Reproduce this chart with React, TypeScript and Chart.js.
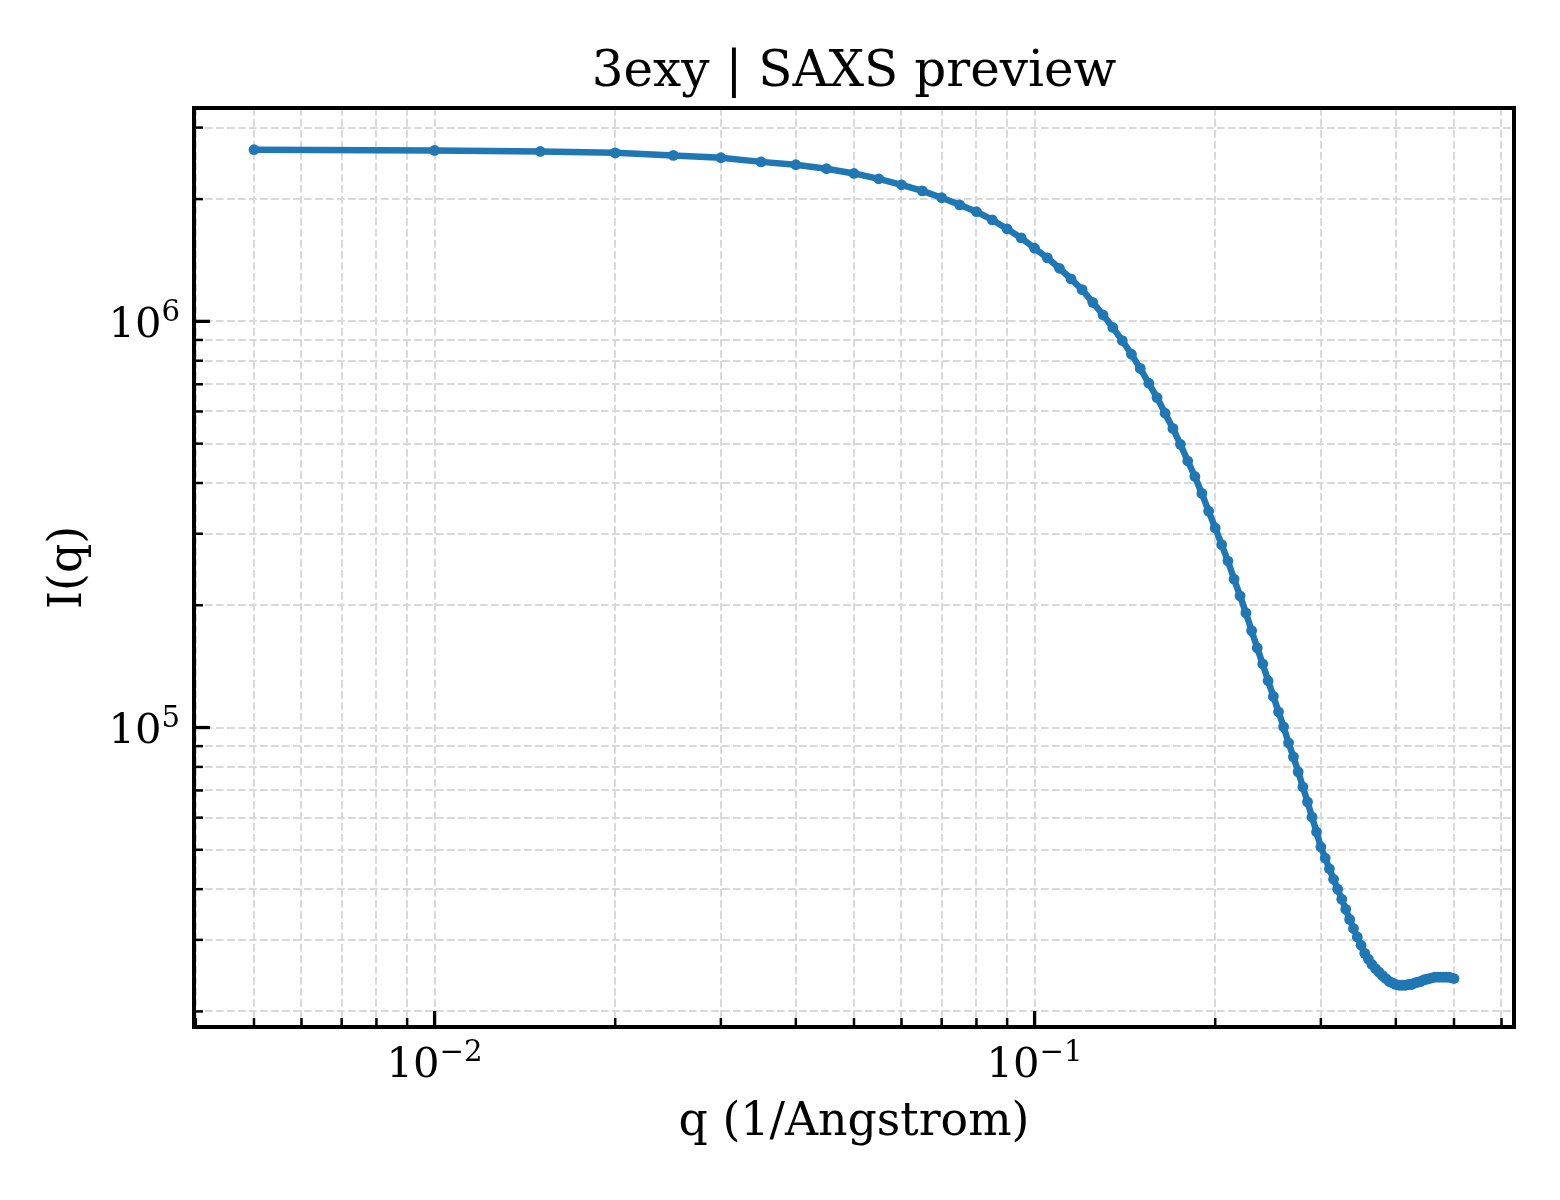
import { useEffect, useRef } from 'react';
import Chart from 'chart.js/auto';

// scattering vector q (1/Angstrom)
const qValues = [
  0.005, 0.01, 0.015, 0.02, 0.025, 0.03, 0.035, 0.04, 0.045, 0.05,
  0.055, 0.06, 0.065, 0.07, 0.075, 0.08, 0.085, 0.09, 0.095, 0.1,
  0.105, 0.11, 0.115, 0.12, 0.125, 0.13, 0.135, 0.14, 0.145, 0.15,
  0.155, 0.16, 0.165, 0.17, 0.175, 0.18, 0.185, 0.19, 0.195, 0.2,
  0.205, 0.21, 0.215, 0.22, 0.225, 0.23, 0.235, 0.24, 0.245, 0.25,
  0.255, 0.26, 0.265, 0.27, 0.275, 0.28, 0.285, 0.29, 0.295, 0.3,
  0.305, 0.31, 0.315, 0.32, 0.325, 0.33, 0.335, 0.34, 0.345, 0.35,
  0.355, 0.36, 0.365, 0.37, 0.375, 0.38, 0.385, 0.39, 0.395, 0.4,
  0.405, 0.41, 0.415, 0.42, 0.425, 0.43, 0.435, 0.44, 0.445, 0.45,
  0.455, 0.46, 0.465, 0.47, 0.475, 0.48, 0.485, 0.49, 0.495, 0.5,
];

// I(q)
const intensity = [
  2.646e6, 2.635e6, 2.62e6, 2.6e6, 2.562e6, 2.528e6, 2.47e6, 2.43e6, 2.376e6, 2.313e6,
  2.244e6, 2.169e6, 2.096e6, 2.015e6, 1.936e6, 1.862e6, 1.778e6, 1.689e6, 1.605e6, 1.514e6,
  1.433e6, 1.351e6, 1.272e6, 1.197e6, 1.114e6, 1.038e6, 9.66e5, 8.97e5, 8.3e5, 7.66e5,
  7.04e5, 6.49e5, 5.94e5, 5.45e5, 4.98e5, 4.53e5, 4.15e5, 3.77e5, 3.41e5, 3.1e5,
  2.82e5, 2.57e5, 2.32e5, 2.11e5, 1.915e5, 1.732e5, 1.57e5, 1.434e5, 1.304e5, 1.193e5,
  1.093e5, 1.004e5, 9.17e4, 8.47e4, 7.78e4, 7.14e4, 6.56e4, 6.02e4, 5.53e4, 5.08e4,
  4.77e4, 4.49e4, 4.23e4, 4.0e4, 3.78e4, 3.57e4, 3.37e4, 3.2e4, 3.05e4, 2.91e4,
  2.78e4, 2.69e4, 2.61e4, 2.55e4, 2.5e4, 2.45e4, 2.41e4, 2.37e4, 2.35e4, 2.33e4,
  2.32e4, 2.32e4, 2.32e4, 2.33e4, 2.33e4, 2.35e4, 2.36e4, 2.37e4, 2.39e4, 2.4e4,
  2.41e4, 2.42e4, 2.43e4, 2.43e4, 2.43e4, 2.43e4, 2.43e4, 2.43e4, 2.42e4, 2.41e4,
];

const xTickValues = [
  0.004, 0.005, 0.006, 0.007, 0.008, 0.009,
  0.01, 0.02, 0.03, 0.04, 0.05, 0.06, 0.07, 0.08, 0.09,
  0.1, 0.2, 0.3, 0.4, 0.5, 0.6,
];
const yTickValues = [
  2e4, 3e4, 4e4, 5e4, 6e4, 7e4, 8e4, 9e4,
  1e5, 2e5, 3e5, 4e5, 5e5, 6e5, 7e5, 8e5, 9e5,
  1e6, 2e6, 3e6,
];
const xRange = [0.003972, 0.6295];
const yRange = [1.831e4, 3.352e6];

const FONT = "'DejaVu Serif', 'Liberation Serif', serif";
const TICK_SIZE = 41.7;
const EXP_SIZE = 29.2;

const isDecade = (v: number) => Math.abs(Math.log10(v) - Math.round(Math.log10(v))) < 1e-9;
const exponentText = (v: number) => String(Math.round(Math.log10(v))).replace('-', '\u2212');

// draws "10" with a raised, smaller exponent, like mathtext
function drawPower(ctx: CanvasRenderingContext2D, v: number, x: number, baseline: number, align: 'center' | 'right') {
  const exp = exponentText(v);
  ctx.font = `${TICK_SIZE}px ${FONT}`;
  const wb = ctx.measureText('10').width;
  ctx.font = `${EXP_SIZE}px ${FONT}`;
  const we = ctx.measureText(exp).width;
  const start = align === 'center' ? x - (wb + we) / 2 : x - (wb + we);
  ctx.font = `${TICK_SIZE}px ${FONT}`;
  ctx.fillText('10', start, baseline);
  ctx.font = `${EXP_SIZE}px ${FONT}`;
  ctx.fillText(exp, start + wb, baseline - 16);
}

// matplotlib-style frame, inward ticks on the left and bottom, decade labels
const frameAndTicks = {
  id: 'frameAndTicks',
  afterDraw(chart: any) {
    const { ctx, chartArea } = chart;
    const { left, right, top, bottom } = chartArea;
    const xs = chart.scales.x;
    const ys = chart.scales.y;
    ctx.save();
    ctx.strokeStyle = '#000';
    ctx.fillStyle = '#000';
    ctx.lineCap = 'butt';
    for (const t of xs.ticks) {
      const px = xs.getPixelForValue(t.value);
      const major = isDecade(t.value);
      ctx.lineWidth = major ? 3.3 : 2.5;
      ctx.beginPath();
      ctx.moveTo(px, bottom);
      ctx.lineTo(px, bottom - (major ? 16 : 9));
      ctx.stroke();
    }
    for (const t of ys.ticks) {
      const py = ys.getPixelForValue(t.value);
      const major = isDecade(t.value);
      ctx.lineWidth = major ? 3.3 : 2.5;
      ctx.beginPath();
      ctx.moveTo(left, py);
      ctx.lineTo(left + (major ? 16 : 9), py);
      ctx.stroke();
    }
    ctx.lineWidth = 4;
    ctx.strokeRect(left, top, right - left, bottom - top);

    ctx.textAlign = 'left';
    ctx.textBaseline = 'alphabetic';
    for (const t of xs.ticks) {
      if (!isDecade(t.value)) continue;
      drawPower(ctx, t.value, xs.getPixelForValue(t.value), bottom + 50, 'center');
    }
    for (const t of ys.ticks) {
      if (!isDecade(t.value)) continue;
      drawPower(ctx, t.value, left - 14, ys.getPixelForValue(t.value) + 15.5, 'right');
    }
    ctx.restore();
  },
};

export default function App() {
  const canvasRef = useRef<HTMLCanvasElement | null>(null);
  const chartRef = useRef<Chart | null>(null);

  useEffect(() => {
    document.body.style.margin = '0';
    if (!canvasRef.current) return;
    if (chartRef.current) chartRef.current.destroy();

    const gridStyle = { color: '#d9d9d9', lineWidth: 2, drawTicks: false };
    const borderStyle = { display: false, dash: [7.7, 3.3] };

    chartRef.current = new Chart(canvasRef.current, {
      type: 'line',
      data: {
        datasets: [
          {
            label: 'I(q)',
            data: qValues.map((q, i) => ({ x: q, y: intensity[i] })),
            borderColor: '#1f77b4',
            backgroundColor: '#1f77b4',
            borderWidth: 6.5,
            pointRadius: 5.4,
            pointBorderWidth: 0,
            pointBackgroundColor: '#1f77b4',
            tension: 0,
          },
        ],
      },
      plugins: [frameAndTicks],
      options: {
        animation: false,
        responsive: true,
        maintainAspectRatio: false,
        devicePixelRatio: 1,
        layout: { autoPadding: false, padding: { left: 0, right: 46, top: 0, bottom: 0 } },
        plugins: {
          legend: { display: false },
          tooltip: { enabled: false },
          title: {
            display: true,
            fullSize: false,
            text: '3exy | SAXS preview',
            color: '#000',
            font: { family: FONT, size: 50, weight: 'normal', lineHeight: 1.2 },
            padding: { top: 43, bottom: 5 },
          },
        },
        scales: {
          x: {
            type: 'logarithmic',
            min: xRange[0],
            max: xRange[1],
            afterBuildTicks: (scale: any) => {
              scale.ticks = xTickValues.map((v) => ({ value: v, major: isDecade(v) }));
            },
            afterFit: (scale: any) => {
              scale.height = 173;
            },
            grid: gridStyle,
            border: borderStyle,
            ticks: {
              autoSkip: false,
              maxRotation: 0,
              minRotation: 0,
              padding: 14,
              font: { family: FONT, size: TICK_SIZE },
              callback: () => '',
            },
            title: {
              display: true,
              text: 'q (1/Angstrom)',
              color: '#000',
              font: { family: FONT, size: 45.8, lineHeight: 1.2 },
              padding: { top: 0, bottom: 49 },
            },
          },
          y: {
            type: 'logarithmic',
            min: yRange[0],
            max: yRange[1],
            afterBuildTicks: (scale: any) => {
              scale.ticks = yTickValues.map((v) => ({ value: v, major: isDecade(v) }));
            },
            afterFit: (scale: any) => {
              scale.width = 194;
            },
            grid: gridStyle,
            border: borderStyle,
            ticks: {
              autoSkip: false,
              padding: 14,
              font: { family: FONT, size: TICK_SIZE },
              callback: () => '',
            },
            title: {
              display: true,
              text: 'I(q)',
              color: '#000',
              font: { family: FONT, size: 45.8, lineHeight: 1.2 },
              padding: { top: 42, bottom: 0 },
            },
          },
        },
      },
    } as any);

    return () => {
      if (chartRef.current) {
        chartRef.current.destroy();
        chartRef.current = null;
      }
    };
  }, []);

  return (
    <div style={{ position: 'relative', width: 1560, height: 1200, background: '#fff' }}>
      <canvas ref={canvasRef} />
    </div>
  );
}
